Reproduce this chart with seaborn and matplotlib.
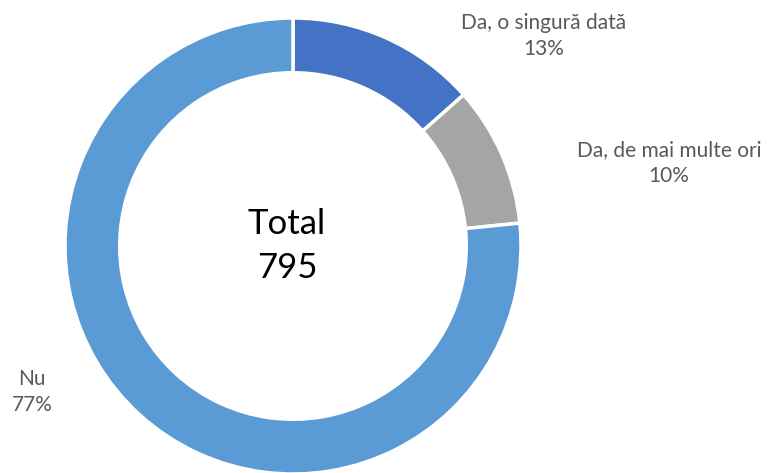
import seaborn as sns
import matplotlib.pyplot as plt

# answers to the question, counts out of 795
categories = ['Da, o singură dată', 'Da, de mai multe ori', 'Nu']
counts = [107, 79, 609]
pct_labels = ['13%', '10%', '77%']
total = 795

sns.set_style('white')
plt.rcParams['font.family'] = ['Lato', 'DejaVu Sans']
colors = ['#4472C4', '#A5A5A5', '#5B9BD5']

fig = plt.figure(figsize=(7.73, 4.73), dpi=100)
# donut centre at about (293, 246) px, outer radius 228 px
cx, cy, r = 293, 246, 228
ax = fig.add_axes([(cx - r) / 773, (473 - cy - r) / 473, 2 * r / 773, 2 * r / 473])
ax.pie(counts, colors=colors, startangle=90, counterclock=False, radius=1,
       wedgeprops=dict(width=0.24, edgecolor='white', linewidth=2.5))
ax.set_xlim(-1, 1)
ax.set_ylim(-1, 1)
ax.set_aspect('equal')
ax.axis('off')

label_px = [(544, 36), (669, 163), (32, 392)]
for name, pct, (px, py) in zip(categories, pct_labels, label_px):
    ax.text((px - cx) / r, (cy - py) / r, f'{name}\n{pct}', ha='center', va='center',
            fontsize=15, color='#595959', linespacing=1.35, clip_on=False)

ax.text((287 - cx) / r, 0, f'Total\n{total}', ha='center', va='center', fontsize=25,
        color='black', linespacing=1.5)

fig.savefig('out.png', dpi=100)
